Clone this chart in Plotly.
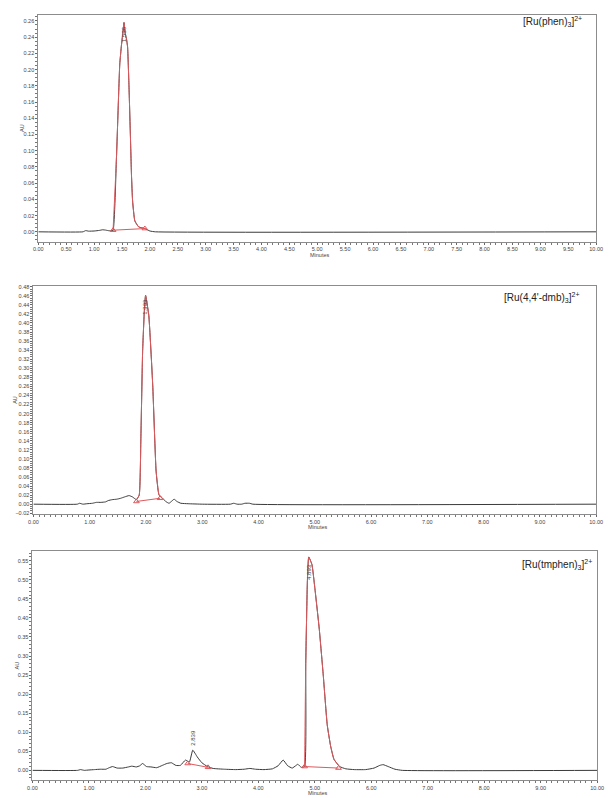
import plotly.graph_objects as go

W, H = 610, 798

# ---- [Ru(phen)3]2+ chromatogram -------------------------------------------
time_1 = [0.00, 0.80, 0.85, 0.90, 1.00, 1.10, 1.15, 1.20, 1.25, 1.30, 1.34, 1.40,
          1.44, 1.46, 1.49, 1.51, 1.536, 1.555, 1.58, 1.60, 1.625, 1.65, 1.67, 1.69,
          1.73, 1.80, 1.91, 2.00, 2.10, 10.00]
au_1 = [0.000, 0.000, 0.0015, 0.0008, 0.0010, 0.0018, 0.0025, 0.0022, 0.0015, 0.0012,
        0.002, 0.090, 0.170, 0.207, 0.230, 0.242, 0.258, 0.245, 0.238, 0.228, 0.180,
        0.120, 0.070, 0.038, 0.0135, 0.006, 0.004, 0.001, 0.000, 0.000]
peak_1_t = [1.34, 1.40, 1.44, 1.46, 1.49, 1.51, 1.536, 1.555, 1.58, 1.60, 1.625, 1.65,
            1.67, 1.69, 1.73, 1.80, 1.91]
peak_1_au = [0.002, 0.090, 0.170, 0.207, 0.230, 0.242, 0.258, 0.245, 0.238, 0.228,
             0.180, 0.120, 0.070, 0.038, 0.0135, 0.006, 0.004]
base_1_t = [1.34, 1.91]
base_1_au = [0.002, 0.004]
label_1 = "[Ru(phen)<sub>3</sub>]<sup>2+</sup>"
rt_1 = [1.536]

# ---- [Ru(4,4'-dmb)3]2+ chromatogram ---------------------------------------
time_2 = [0.00, 0.78, 0.82, 0.88, 0.95, 1.05, 1.12, 1.20, 1.28, 1.33, 1.40, 1.48,
          1.55, 1.62, 1.70, 1.76, 1.83, 1.88, 1.91, 1.94, 1.97, 1.993, 2.05, 2.12,
          2.18, 2.23, 2.29, 2.35, 2.41, 2.46, 2.50, 2.55, 2.62, 2.75, 3.00, 3.50,
          3.56, 3.62, 3.70, 3.76, 3.84, 3.90, 10.00]
au_2 = [0.000, 0.000, 0.002, 0.000, 0.001, 0.002, 0.004, 0.004, 0.005, 0.008, 0.010,
        0.011, 0.013, 0.016, 0.019, 0.016, 0.010, 0.020, 0.150, 0.336, 0.424, 0.461,
        0.417, 0.263, 0.073, 0.021, 0.014, 0.006, 0.002, 0.007, 0.011, 0.006, 0.002,
        0.001, 0.000, 0.000, 0.002, 0.000, 0.000, 0.002, 0.002, 0.000, 0.000]
peak_2_t = [1.83, 1.88, 1.91, 1.94, 1.97, 1.993, 2.05, 2.12, 2.18, 2.23, 2.25]
peak_2_au = [0.010, 0.020, 0.150, 0.336, 0.424, 0.461, 0.417, 0.263, 0.073, 0.021, 0.016]
base_2_t = [1.83, 2.25]
base_2_au = [0.006, 0.013]
label_2 = "[Ru(4,4'-dmb)<sub>3</sub>]<sup>2+</sup>"
rt_2 = [1.993]

# ---- [Ru(tmphen)3]2+ chromatogram -----------------------------------------
time_3 = [0.00, 0.80, 0.85, 0.92, 1.00, 1.10, 1.20, 1.30, 1.36, 1.42, 1.50, 1.60,
          1.70, 1.76, 1.84, 1.90, 1.95, 2.02, 2.10, 2.20, 2.30, 2.38, 2.46, 2.54,
          2.62, 2.71, 2.78, 2.839, 2.92, 3.00, 3.10, 3.20, 3.40, 3.60, 3.75, 3.85,
          3.95, 4.10, 4.25, 4.35, 4.44, 4.52, 4.60, 4.66, 4.70, 4.76, 4.82, 4.84,
          4.87, 4.893, 4.95, 5.00, 5.08, 5.15, 5.22, 5.28, 5.34, 5.44, 5.55, 5.70,
          5.90, 6.05, 6.15, 6.21, 6.30, 6.42, 6.55, 10.00]
au_3 = [0.000, 0.000, 0.002, 0.000, 0.001, 0.002, 0.003, 0.003, 0.007, 0.010, 0.006,
        0.006, 0.009, 0.011, 0.009, 0.012, 0.018, 0.010, 0.009, 0.007, 0.013, 0.018,
        0.020, 0.013, 0.013, 0.027, 0.022, 0.053, 0.035, 0.020, 0.010, 0.005, 0.003,
        0.002, 0.003, 0.005, 0.003, 0.002, 0.004, 0.012, 0.027, 0.012, 0.006, 0.012,
        0.016, 0.008, 0.010, 0.280, 0.500, 0.560, 0.540, 0.480, 0.370, 0.250, 0.120,
        0.064, 0.029, 0.010, 0.004, 0.002, 0.002, 0.006, 0.013, 0.015, 0.010, 0.003,
        0.000, 0.000]
peak_3_t = [4.82, 4.84, 4.87, 4.893, 4.95, 5.00, 5.08, 5.15, 5.22, 5.28, 5.34, 5.44]
peak_3_au = [0.010, 0.280, 0.500, 0.560, 0.540, 0.480, 0.370, 0.250, 0.120, 0.064,
             0.029, 0.010]
base_3a_t = [2.75, 3.11]
base_3a_au = [0.018, 0.008]
base_3b_t = [4.82, 5.42]
base_3b_au = [0.010, 0.006]
label_3 = "[Ru(tmphen)<sub>3</sub>]<sup>2+</sup>"
rt_3 = [2.839, 4.893]

BLACK = "#3a3a3a"
RED = "#e0585c"
FONT = "Liberation Sans, Arial, sans-serif"

# panel boxes in pixels: left, right, top, bottom
boxes = [(34, 603, 13, 241), (29, 603, 285, 515), (28, 604, 552, 782)]
yranges = [(-0.0123, 0.2674), (-0.0226, 0.4826), (-0.0255, 0.575)]
ydticks = [0.02, 0.02, 0.05]
yminor = [0.005, 0.005, 0.01]
xdticks = [0.5, 1.0, 1.0]
minutes_y = [254, 528, 795]

fig = go.Figure()


def line(x, y, color, k, width=1.0):
    fig.add_trace(go.Scatter(x=x, y=y, mode="lines", xaxis=f"x{k}", yaxis=f"y{k}",
                             line=dict(color=color, width=width, shape="spline",
                                       smoothing=0.4),
                             showlegend=False, hoverinfo="skip"))


def baseline(x, y, k):
    fig.add_trace(go.Scatter(x=x, y=y, mode="lines+markers", xaxis=f"x{k}",
                             yaxis=f"y{k}", line=dict(color=RED, width=1),
                             marker=dict(symbol="triangle-up-open", size=5,
                                         color=RED, line=dict(width=1)),
                             showlegend=False, hoverinfo="skip"))


line(time_1, au_1, BLACK, 1)
line(peak_1_t, peak_1_au, RED, 1)
baseline(base_1_t, base_1_au, 1)

line(time_2, au_2, BLACK, 2)
line(peak_2_t, peak_2_au, RED, 2)
baseline(base_2_t, base_2_au, 2)

line(time_3, au_3, BLACK, 3)
line(peak_3_t, peak_3_au, RED, 3)
baseline(base_3a_t, base_3a_au, 3)
baseline(base_3b_t, base_3b_au, 3)

layout = dict(width=W, height=H, margin=dict(l=0, r=0, t=0, b=0),
              paper_bgcolor="white", plot_bgcolor="white",
              font=dict(family=FONT, color="#444"))

tickfont = dict(family=FONT, size=5.5, color="#444")
for i, (l, r, t, b) in enumerate(boxes):
    k = i + 1
    sx = "" if k == 1 else str(k)
    layout[f"xaxis{sx}"] = dict(
        domain=[l / W, r / W], range=[0, 10], anchor=f"y{k}",
        dtick=xdticks[i], tick0=0, tickformat=".2f", ticks="outside", ticklen=2,
        tickcolor="#666", tickfont=tickfont, showgrid=False, zeroline=False,
        showline=True, mirror=True, linecolor="#8c8c8c", linewidth=1,
        minor=dict(dtick=0.1, ticks="outside", ticklen=2, tickcolor="#777",
                   showgrid=False))
    layout[f"yaxis{sx}"] = dict(
        domain=[1 - b / H, 1 - t / H], range=list(yranges[i]), anchor=f"x{k}",
        dtick=ydticks[i], tick0=0, tickformat=".2f", ticks="outside", ticklen=2,
        tickcolor="#666", tickfont=tickfont, showgrid=False, zeroline=False,
        showline=True, mirror=True, linecolor="#8c8c8c", linewidth=1,
        minor=dict(dtick=yminor[i], ticks="outside", ticklen=2, tickcolor="#777",
                   showgrid=False))

fig.update_layout(**layout)


def ann_px(text, x, y, size, color="#222", angle=0):
    fig.add_annotation(text=text, x=x / W, y=1 - y / H, xref="paper", yref="paper",
                       showarrow=False, textangle=angle,
                       font=dict(family=FONT, size=size, color=color),
                       xanchor="center", yanchor="middle")


# compound names
ann_px(label_1, 558, 20, 10)
ann_px(label_2, 548, 297, 10)
ann_px(label_3, 563, 565, 10)

# axis titles
for (l, r, t, b), ax_x, my in zip(boxes, [18, 10, 12], minutes_y):
    ann_px("AU", ax_x, (t + b) / 2, 5.5, "#444", -90)
    ann_px("Minutes", (l + r) / 2 + 3, my, 5.5, "#444")

# retention-time labels on the peaks
label_y = [[0.244], [0.435], [0.085, 0.52]]
for k, (rts, ys) in enumerate(zip([rt_1, rt_2, rt_3], label_y), start=1):
    for rt, yy in zip(rts, ys):
        fig.add_annotation(text=f"{rt:.3f}", x=rt, y=yy, xref=f"x{k}", yref=f"y{k}",
                           showarrow=False, textangle=-90,
                           font=dict(family=FONT, size=6, color="#444"))

fig.write_html("out.html")
